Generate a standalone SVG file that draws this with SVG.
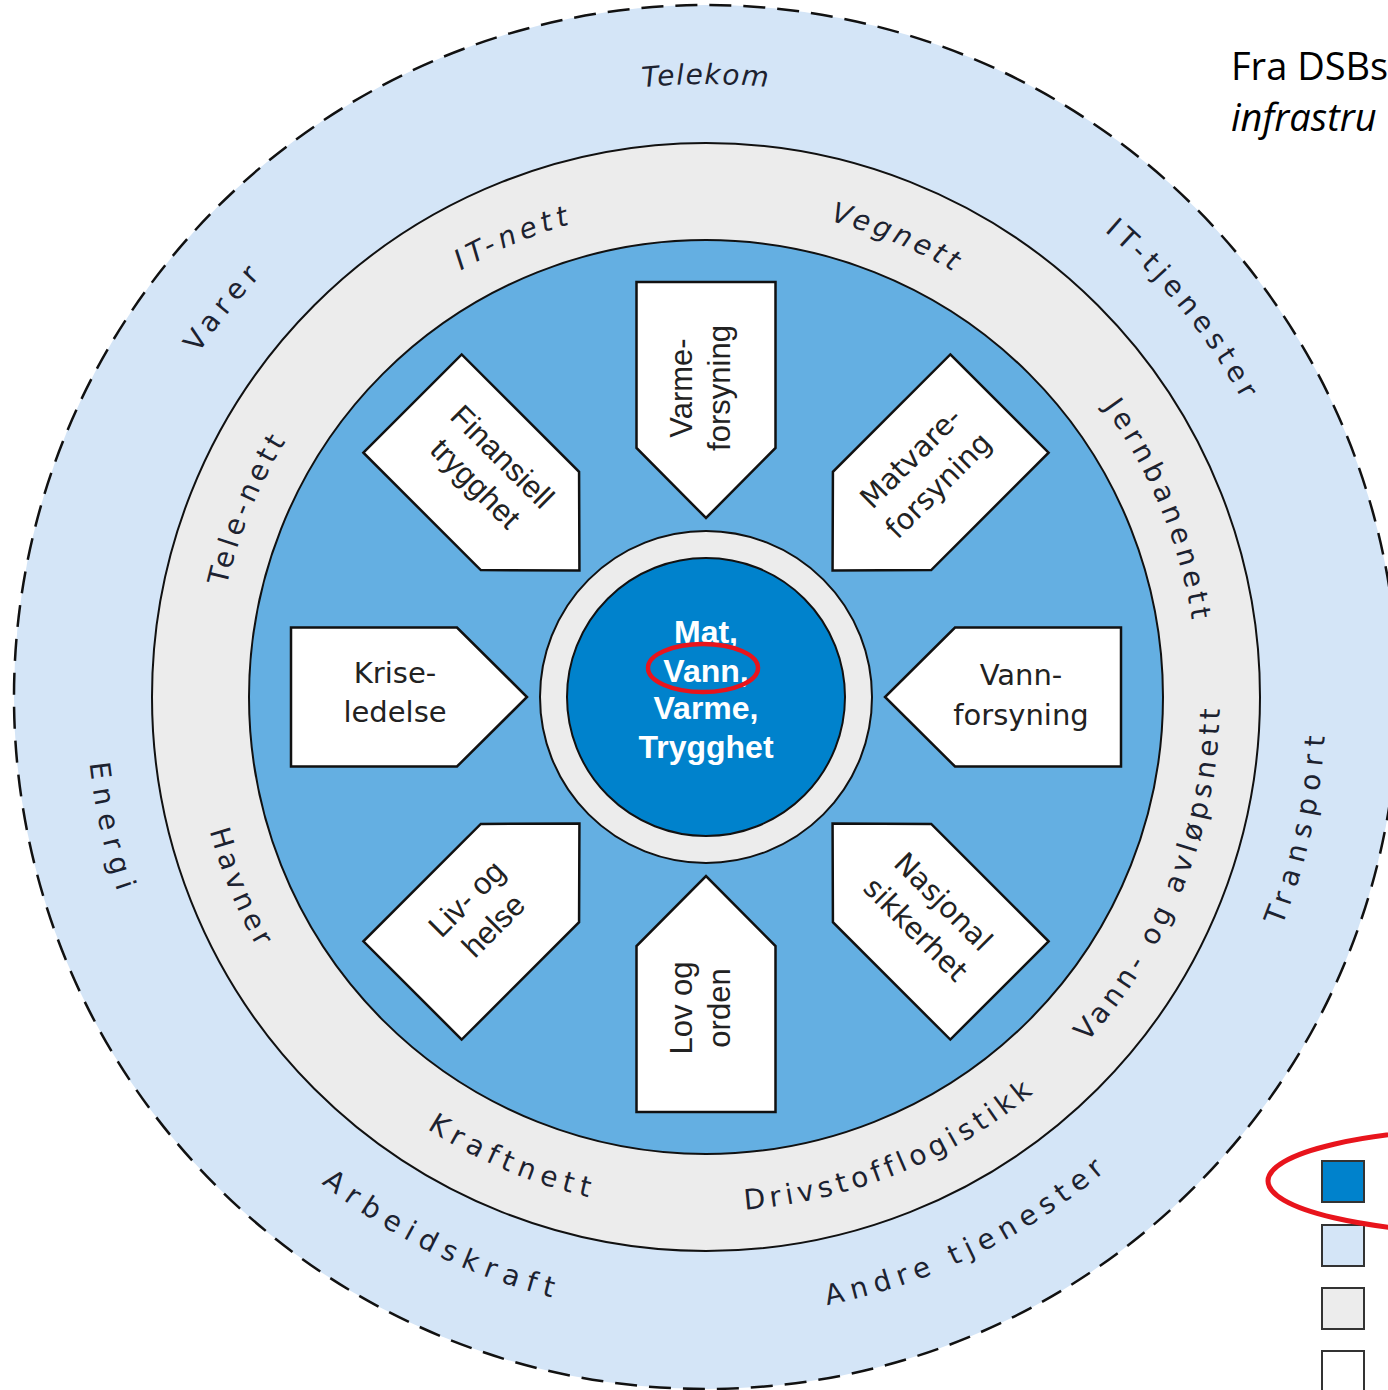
<svg xmlns="http://www.w3.org/2000/svg" xmlns:xlink="http://www.w3.org/1999/xlink" width="1388" height="1390" viewBox="0 0 1388 1390">
<style>
.ring{font-family:"DejaVu Sans",Verdana,sans-serif;font-size:28px;fill:#1c2230}
.box{fill:#ffffff;stroke:#111;stroke-width:2.5;stroke-linejoin:miter}
.ta{font-family:"Liberation Sans",Arial,sans-serif;font-size:31px;fill:#222;text-anchor:middle}
.tb{font-family:"DejaVu Sans",Verdana,sans-serif;font-size:29px;fill:#222;text-anchor:middle}
.ctr{font-family:"Liberation Sans",Arial,sans-serif;font-size:32px;font-weight:bold;fill:#ffffff;text-anchor:middle}
.leg{stroke:#333;stroke-width:2}
.cap{font-family:"Open Sans","Liberation Sans",sans-serif;font-size:38px;fill:#000}
</style>
<defs>
<path id="ocw" d="M 706 1310 A 613 613 0 0 1 706 84 A 613 613 0 0 1 706 1310"/>
<path id="occw" d="M 706 77 A 620 620 0 0 0 706 1317 A 620 620 0 0 0 706 77"/>
<path id="gcw" d="M 706 1189 A 492 492 0 0 1 706 205 A 492 492 0 0 1 706 1189"/>
<path id="gccw" d="M 706 183 A 514 514 0 0 0 706 1211 A 514 514 0 0 0 706 183"/>
<polygon id="arrow" points="636.5,282 775.5,282 775.5,448 706,518 636.5,448"/>
</defs>

<g id="rings">
<circle cx="706" cy="697" r="692" fill="#d4e5f7" stroke="#111" stroke-width="2.5" stroke-dasharray="22 12"/>
<circle cx="706" cy="697" r="554" fill="#ececec" stroke="#111" stroke-width="2"/>
<circle cx="706" cy="697" r="457" fill="#64afe2" stroke="#111" stroke-width="2"/>
<circle cx="706" cy="697" r="166" fill="#ececec" stroke="#111" stroke-width="2"/>
<circle cx="706" cy="697" r="139" fill="#0082cc" stroke="#111" stroke-width="2"/>
</g>

<g id="outer-labels">
<text class="ring" font-style="italic" letter-spacing="1.5"><textPath xlink:href="#ocw" startOffset="50%" text-anchor="middle">Telekom</textPath></text>
<g transform="rotate(51 706 697)"><text class="ring" letter-spacing="5.5"><textPath xlink:href="#ocw" startOffset="50%" text-anchor="middle">IT-tjenester</textPath></text></g>
<g transform="rotate(-51 706 697)"><text class="ring" letter-spacing="6.5"><textPath xlink:href="#ocw" startOffset="50%" text-anchor="middle">Varer</textPath></text></g>
<g transform="rotate(-77.7 706 697)"><text class="ring" letter-spacing="8"><textPath xlink:href="#occw" startOffset="50%" text-anchor="middle">Transport</textPath></text></g>
<g transform="rotate(-26 706 697)"><text class="ring" letter-spacing="6.8"><textPath xlink:href="#occw" startOffset="50%" text-anchor="middle">Andre tjenester</textPath></text></g>
<g transform="rotate(26 706 697)"><text class="ring" letter-spacing="8"><textPath xlink:href="#occw" startOffset="50%" text-anchor="middle">Arbeidskraft</textPath></text></g>
<g transform="rotate(77.4 706 697)"><text class="ring" letter-spacing="8.5"><textPath xlink:href="#occw" startOffset="50%" text-anchor="middle">Energi</textPath></text></g>
</g>

<g id="infra-labels">
<g transform="rotate(-22.7 706 697)"><text class="ring" font-style="italic" letter-spacing="5"><textPath xlink:href="#gcw" startOffset="50%" text-anchor="middle">IT-nett</textPath></text></g>
<g transform="rotate(22.6 706 697)"><text class="ring" font-style="italic" letter-spacing="4"><textPath xlink:href="#gcw" startOffset="50%" text-anchor="middle">Vegnett</textPath></text></g>
<g transform="rotate(67.7 706 697)"><text class="ring" letter-spacing="4.7"><textPath xlink:href="#gcw" startOffset="50%" text-anchor="middle">Jernbanenett</textPath></text></g>
<g transform="rotate(-67.6 706 697)"><text class="ring" letter-spacing="4.4"><textPath xlink:href="#gcw" startOffset="50%" text-anchor="middle">Tele-nett</textPath></text></g>
<g transform="rotate(-68.5 706 697)"><text class="ring" letter-spacing="4.8"><textPath xlink:href="#gccw" startOffset="50%" text-anchor="middle">Vann- og avløpsnett</textPath></text></g>
<g transform="rotate(-22.2 706 697)"><text class="ring" letter-spacing="4.7"><textPath xlink:href="#gccw" startOffset="50%" text-anchor="middle">Drivstofflogistikk</textPath></text></g>
<g transform="rotate(22.7 706 697)"><text class="ring" letter-spacing="6.5"><textPath xlink:href="#gccw" startOffset="50%" text-anchor="middle">Kraftnett</textPath></text></g>
<g transform="rotate(67.6 706 697)"><text class="ring" letter-spacing="5"><textPath xlink:href="#gccw" startOffset="50%" text-anchor="middle">Havner</textPath></text></g>
</g>

<g id="connectors"></g>

<g id="node-varme">
<use xlink:href="#arrow" class="box"/>
<text class="ta" transform="translate(706 388) rotate(-90)"><tspan x="0" y="-14">Varme-</tspan><tspan x="0" y="24">forsyning</tspan></text>
</g>
<g id="node-matvare">
<use xlink:href="#arrow" class="box" transform="rotate(45 706 697)"/>
<text class="tb" transform="translate(927 474) rotate(-45)"><tspan x="0" y="-13">Matvare-</tspan><tspan x="0" y="26">forsyning</tspan></text>
</g>
<g id="node-vann">
<use xlink:href="#arrow" class="box" transform="rotate(90 706 697)"/>
<text class="tb" transform="translate(1021 697)"><tspan x="0" y="-12">Vann-</tspan><tspan x="0" y="28">forsyning</tspan></text>
</g>
<g id="node-nasjonal">
<use xlink:href="#arrow" class="box" transform="rotate(135 706 697)"/>
<text class="tb" transform="translate(927 918) rotate(45)"><tspan x="0" y="-13">Nasjonal</tspan><tspan x="0" y="26">sikkerhet</tspan></text>
</g>
<g id="node-lov">
<use xlink:href="#arrow" class="box" transform="rotate(180 706 697)"/>
<text class="ta" transform="translate(706 1008) rotate(-90)"><tspan x="0" y="-14">Lov og</tspan><tspan x="0" y="24">orden</tspan></text>
</g>
<g id="node-liv">
<use xlink:href="#arrow" class="box" transform="rotate(225 706 697)"/>
<text class="ta" transform="translate(484 916) rotate(-45)"><tspan x="0" y="-14">Liv- og</tspan><tspan x="0" y="24">helse</tspan></text>
</g>
<g id="node-krise">
<use xlink:href="#arrow" class="box" transform="rotate(270 706 697)"/>
<text class="tb" transform="translate(395 697)"><tspan x="0" y="-14">Krise-</tspan><tspan x="0" y="25">ledelse</tspan></text>
</g>
<g id="node-finansiell">
<use xlink:href="#arrow" class="box" transform="rotate(315 706 697)"/>
<text class="ta" transform="translate(485 474) rotate(45)"><tspan x="0" y="-14">Finansiell</tspan><tspan x="0" y="24">trygghet</tspan></text>
</g>

<g id="node-center">
<text class="ctr"><tspan x="706" y="643">Mat,</tspan><tspan x="706" y="682">Vann,</tspan><tspan x="706" y="719">Varme,</tspan><tspan x="706" y="758">Trygghet</tspan></text>
<ellipse cx="703" cy="668" rx="55" ry="24" fill="none" stroke="#e8141c" stroke-width="4.5"/>
</g>

<g id="caption">
<text class="cap" x="1231" y="80">Fra DSBs</text>
<text class="cap" x="1231" y="131" font-style="italic">infrastru</text>
</g>

<g id="legend">
<rect class="leg" x="1322" y="1161" width="42" height="41" fill="#0082cc"/>
<rect class="leg" x="1322" y="1225" width="42" height="41" fill="#d4e5f7"/>
<rect class="leg" x="1322" y="1288" width="42" height="41" fill="#ececec"/>
<rect class="leg" x="1322" y="1351" width="42" height="41" fill="#ffffff"/>
<ellipse cx="1493" cy="1181" rx="225" ry="52" fill="none" stroke="#e8141c" stroke-width="5"/>
</g>
</svg>
